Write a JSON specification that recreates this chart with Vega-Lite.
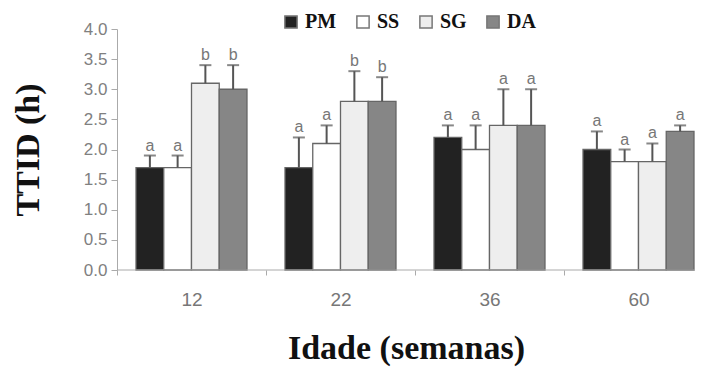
{
  "$schema": "https://vega.github.io/schema/vega-lite/v6.json",
  "width": 578,
  "height": 241,
  "autosize": {"type": "none"},
  "padding": {"left": 117, "top": 29, "right": 6, "bottom": 98},
  "background": "white",
  "config": {
    "view": {"stroke": null},
    "axisY": {
      "format": ".1f",
      "grid": false,
      "domainColor": "#aaaaaa",
      "tickColor": "#aaaaaa",
      "tickSize": 6,
      "labelColor": "#808080",
      "labelFont": "Liberation Sans",
      "labelFontSize": 17,
      "labelPadding": 4,
      "labelOverlap": false,
      "titleFont": "Liberation Serif",
      "titleFontWeight": "bold",
      "titleFontSize": 34,
      "titleColor": "#111111",
      "titleAngle": -90,
      "titleX": -89,
      "titleY": 120.5,
      "titleAlign": "center",
      "titleBaseline": "middle"
    }
  },
  "data": {
    "values": [
      {"group": "12", "series": "PM", "value": 1.7, "err": 1.9, "letter": "a"},
      {"group": "12", "series": "SS", "value": 1.7, "err": 1.9, "letter": "a"},
      {"group": "12", "series": "SG", "value": 3.1, "err": 3.4, "letter": "b"},
      {"group": "12", "series": "DA", "value": 3.0, "err": 3.4, "letter": "b"},
      {"group": "22", "series": "PM", "value": 1.7, "err": 2.2, "letter": "a"},
      {"group": "22", "series": "SS", "value": 2.1, "err": 2.4, "letter": "a"},
      {"group": "22", "series": "SG", "value": 2.8, "err": 3.3, "letter": "b"},
      {"group": "22", "series": "DA", "value": 2.8, "err": 3.2, "letter": "b"},
      {"group": "36", "series": "PM", "value": 2.2, "err": 2.4, "letter": "a"},
      {"group": "36", "series": "SS", "value": 2.0, "err": 2.4, "letter": "a"},
      {"group": "36", "series": "SG", "value": 2.4, "err": 3.0, "letter": "a"},
      {"group": "36", "series": "DA", "value": 2.4, "err": 3.0, "letter": "a"},
      {"group": "60", "series": "PM", "value": 2.0, "err": 2.3, "letter": "a"},
      {"group": "60", "series": "SS", "value": 1.8, "err": 2.0, "letter": "a"},
      {"group": "60", "series": "SG", "value": 1.8, "err": 2.1, "letter": "a"},
      {"group": "60", "series": "DA", "value": 2.3, "err": 2.4, "letter": "a"}
    ]
  },
  "encoding": {
    "x": {
      "field": "group",
      "type": "nominal",
      "sort": ["12", "22", "36", "60"],
      "scale": {"range": [0, 596], "paddingInner": 0, "paddingOuter": 0},
      "axis": {
        "labelAngle": 0,
        "domain": false,
        "tickBand": "extent",
        "tickColor": "#aaaaaa",
        "tickSize": 5,
        "labelColor": "#777777",
        "labelFont": "Liberation Sans",
        "labelFontSize": 19,
        "labelPadding": 15,
        "title": "Idade (semanas)",
        "titleFont": "Liberation Serif",
        "titleFontWeight": "bold",
        "titleFontSize": 34,
        "titleColor": "#111111",
        "titleX": 289,
        "titleY": 88,
        "titleAlign": "center",
        "titleBaseline": "alphabetic"
      }
    },
    "xOffset": {
      "field": "series",
      "type": "nominal",
      "sort": ["PM", "SS", "SG", "DA"],
      "scale": {"paddingInner": 0, "paddingOuter": 0.685}
    }
  },
  "layer": [
    {
      "mark": {"type": "bar", "stroke": "#666666", "strokeWidth": 1.3},
      "encoding": {
        "y": {
          "field": "value",
          "type": "quantitative",
          "scale": {"domain": [0, 4], "nice": false},
          "axis": {"values": [0, 0.5, 1, 1.5, 2, 2.5, 3, 3.5, 4], "title": "TTID (h)"}
        },
        "fill": {
          "field": "series",
          "type": "nominal",
          "scale": {"domain": ["PM", "SS", "SG", "DA"], "range": ["#222222", "#ffffff", "#eeeeee", "#868686"]},
          "legend": {
            "title": null,
            "orient": "none",
            "legendX": 164,
            "legendY": -17,
            "direction": "horizontal",
            "symbolType": "square",
            "symbolSize": 150,
            "symbolStrokeColor": "#777777",
            "symbolStrokeWidth": 1.5,
            "labelFont": "Liberation Serif",
            "labelFontWeight": "bold",
            "labelFontSize": 20,
            "labelColor": "#111111",
            "labelOffset": 4,
            "columnPadding": 16
          }
        }
      }
    },
    {
      "mark": {"type": "rule", "color": "#555555", "strokeWidth": 2},
      "encoding": {
        "y": {"field": "value", "type": "quantitative", "axis": {"values": [0, 0.5, 1, 1.5, 2, 2.5, 3, 3.5, 4], "title": "TTID (h)"}},
        "y2": {"field": "err"}
      }
    },
    {
      "mark": {"type": "tick", "color": "#555555", "thickness": 2, "size": 12, "orient": "horizontal"},
      "encoding": {
        "y": {"field": "err", "type": "quantitative", "axis": {"values": [0, 0.5, 1, 1.5, 2, 2.5, 3, 3.5, 4], "title": "TTID (h)"}}
      }
    },
    {
      "mark": {"type": "text", "baseline": "alphabetic", "dy": -5, "font": "Liberation Sans", "fontSize": 16, "color": "#777777"},
      "encoding": {
        "y": {"field": "err", "type": "quantitative", "axis": {"values": [0, 0.5, 1, 1.5, 2, 2.5, 3, 3.5, 4], "title": "TTID (h)"}},
        "text": {"field": "letter"}
      }
    },
    {
      "data": {"values": [{"base": 0}]},
      "mark": {"type": "rule", "color": "#aaaaaa", "strokeWidth": 1},
      "encoding": {
        "x": null,
        "xOffset": null,
        "y": {"field": "base", "type": "quantitative", "axis": {"values": [0, 0.5, 1, 1.5, 2, 2.5, 3, 3.5, 4], "title": "TTID (h)"}}
      }
    }
  ]
}
